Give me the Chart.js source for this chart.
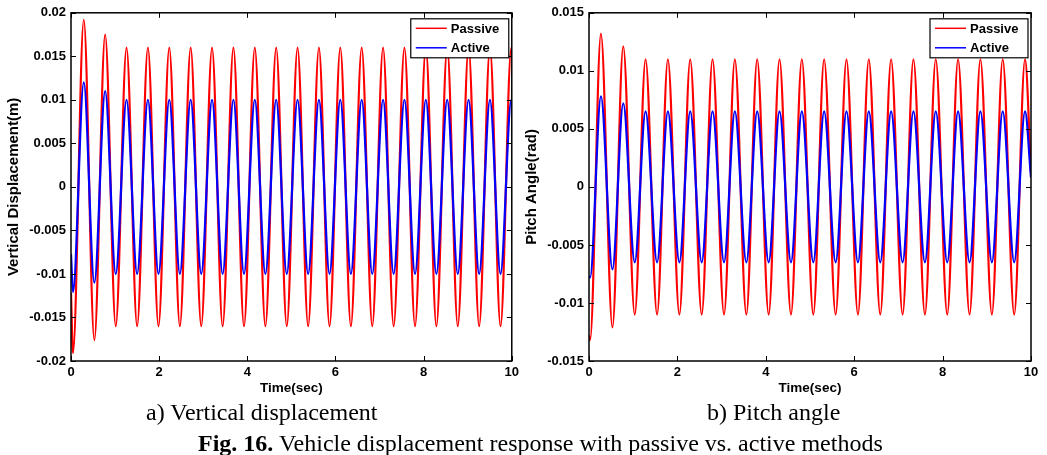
<!DOCTYPE html>
<html>
<head>
<meta charset="utf-8">
<script src="https://cdn.jsdelivr.net/npm/chart.js@4.4.1/dist/chart.umd.min.js"></script>
<style>
  body { margin: 0; background: #fff; width: 1047px; height: 455px; position: relative; overflow: hidden; }
  canvas { position: absolute; top: 0; }
  #vertChart { left: 0; }
  #pitchChart { left: 520px; }
  .cap { position: absolute; font-family: "Liberation Serif", "Times New Roman", serif; font-size: 24px; line-height: 24px; color: #000; white-space: nowrap; }
</style>
</head>
<body>
<canvas id="vertChart" width="523" height="400"></canvas>
<canvas id="pitchChart" width="527" height="400"></canvas>
<div class="cap" style="left:146px; top:400px;">a) Vertical displacement</div>
<div class="cap" style="left:707px; top:400px;">b) Pitch angle</div>
<div class="cap" style="left:198px; top:431px;"><b>Fig. 16.</b> Vehicle displacement response with passive vs. active methods</div>

<script>
// Vertical displacement (left) - times of start, troughs/peaks, end
const vertTime = [0, 0.045, 0.29, 0.53, 0.775, 1.015, 1.26, 1.50, 1.745, 1.985, 2.23, 2.47, 2.715, 2.955,
  3.20, 3.44, 3.685, 3.925, 4.17, 4.41, 4.655, 4.895, 5.14, 5.38, 5.625, 5.865, 6.11, 6.35, 6.595, 6.835,
  7.08, 7.32, 7.565, 7.805, 8.05, 8.29, 8.535, 8.775, 9.02, 9.26, 9.505, 9.745, 9.99, 10];
const vertPassive = [-0.0122, -0.0191, 0.0192, -0.0176, 0.0175, -0.0160, 0.0160, -0.0160, 0.0160, -0.0160, 0.0160,
  -0.0160, 0.0160, -0.0160, 0.0160, -0.0160, 0.0160, -0.0160, 0.0160, -0.0160, 0.0160, -0.0160, 0.0160, -0.0160,
  0.0160, -0.0160, 0.0160, -0.0160, 0.0160, -0.0160, 0.0160, -0.0160, 0.0160, -0.0160, 0.0160, -0.0160, 0.0160,
  -0.0160, 0.0160, -0.0160, 0.0160, -0.0160, 0.0160, 0.0158];
const vertActive = [-0.0077, -0.0121, 0.0120, -0.0110, 0.0110, -0.0100, 0.0100, -0.0100, 0.0100, -0.0100, 0.0100,
  -0.0100, 0.0100, -0.0100, 0.0100, -0.0100, 0.0100, -0.0100, 0.0100, -0.0100, 0.0100, -0.0100, 0.0100, -0.0100,
  0.0100, -0.0100, 0.0100, -0.0100, 0.0100, -0.0100, 0.0100, -0.0100, 0.0100, -0.0100, 0.0100, -0.0100, 0.0100,
  -0.0100, 0.0100, -0.0100, 0.0100, -0.0100, 0.0100, 0.0098];

// Pitch angle (right)
const pitchTime = [0, 0.025, 0.27, 0.53, 0.775, 1.035, 1.28, 1.54, 1.785, 2.045, 2.29, 2.55, 2.795, 3.055,
  3.30, 3.56, 3.805, 4.065, 4.31, 4.57, 4.815, 5.075, 5.32, 5.58, 5.825, 6.085, 6.33, 6.59, 6.835, 7.095,
  7.34, 7.60, 7.845, 8.105, 8.35, 8.61, 8.855, 9.115, 9.36, 9.62, 9.865, 10];
const pitchPassive = [-0.0128, -0.0132, 0.0132, -0.0121, 0.0121, -0.0110, 0.0110, -0.0110, 0.0110, -0.0110, 0.0110,
  -0.0110, 0.0110, -0.0110, 0.0110, -0.0110, 0.0110, -0.0110, 0.0110, -0.0110, 0.0110, -0.0110, 0.0110, -0.0110,
  0.0110, -0.0110, 0.0110, -0.0110, 0.0110, -0.0110, 0.0110, -0.0110, 0.0110, -0.0110, 0.0110, -0.0110, 0.0110,
  -0.0110, 0.0110, -0.0110, 0.0110, 0.0012];
const pitchActive = [-0.0077, -0.0078, 0.0078, -0.0071, 0.0072, -0.0065, 0.0065, -0.0065, 0.0065, -0.0065, 0.0065,
  -0.0065, 0.0065, -0.0065, 0.0065, -0.0065, 0.0065, -0.0065, 0.0065, -0.0065, 0.0065, -0.0065, 0.0065, -0.0065,
  0.0065, -0.0065, 0.0065, -0.0065, 0.0065, -0.0065, 0.0065, -0.0065, 0.0065, -0.0065, 0.0065, -0.0065, 0.0065,
  -0.0065, 0.0065, -0.0065, 0.0065, 0.0008];

// Tick values and labels
const timeTicks = [0, 2, 4, 6, 8, 10];
const timeTickLabels = ['0', '2', '4', '6', '8', '10'];
const vertTicks = [-0.02, -0.015, -0.01, -0.005, 0, 0.005, 0.01, 0.015, 0.02];
const vertTickLabels = ['-0.02', '-0.015', '-0.01', '-0.005', '0', '0.005', '0.01', '0.015', '0.02'];
const pitchTicks = [-0.015, -0.01, -0.005, 0, 0.005, 0.01, 0.015];
const pitchTickLabels = ['-0.015', '-0.01', '-0.005', '0', '0.005', '0.01', '0.015'];

const FONT = '"Liberation Sans", Arial, sans-serif';
Chart.defaults.font.family = FONT;
Chart.defaults.font.size = 13;
Chart.defaults.font.weight = 'bold';
Chart.defaults.color = '#000';

// MATLAB-like box with inward ticks, plus boxed legend
const matlabBox = {
  id: 'matlabBox',
  afterDatasetsDraw(chart) {
    const { ctx, chartArea: a, scales: { x, y } } = chart;
    ctx.save();
    ctx.strokeStyle = '#000';
    ctx.lineWidth = 1.5;
    ctx.strokeRect(a.left, a.top, a.right - a.left, a.bottom - a.top);
    ctx.beginPath();
    x.ticks.forEach(t => {
      const px = Math.round(x.getPixelForValue(t.value)) + 0.5;
      ctx.moveTo(px, a.bottom); ctx.lineTo(px, a.bottom - 5);
      ctx.moveTo(px, a.top); ctx.lineTo(px, a.top + 5);
    });
    y.ticks.forEach(t => {
      const py = Math.round(y.getPixelForValue(t.value)) + 0.5;
      ctx.moveTo(a.left, py); ctx.lineTo(a.left + 5, py);
      ctx.moveTo(a.right, py); ctx.lineTo(a.right - 5, py);
    });
    ctx.lineWidth = 1;
    ctx.stroke();
    ctx.restore();
  },
  afterDraw(chart) {
    const { ctx, chartArea: a } = chart;
    const w = 98, h = 39;
    const bx = a.right - 3 - w, by = a.top + 6;
    ctx.save();
    ctx.fillStyle = '#fff';
    ctx.fillRect(bx, by, w, h);
    ctx.strokeStyle = '#000';
    ctx.lineWidth = 1.2;
    ctx.strokeRect(bx, by, w, h);
    ctx.font = 'bold 13px ' + FONT;
    ctx.textBaseline = 'middle';
    chart.data.datasets.forEach((ds, i) => {
      const ly = by + 9.5 + i * 19.5;
      ctx.strokeStyle = ds.borderColor;
      ctx.lineWidth = 1.5;
      ctx.beginPath();
      ctx.moveTo(bx + 5, ly); ctx.lineTo(bx + 36, ly);
      ctx.stroke();
      ctx.fillStyle = '#000';
      ctx.fillText(ds.label, bx + 40, ly + 1);
    });
    ctx.restore();
  }
};

function makeChart(id, times, passive, active, yTicks, yLabels, yMin, yMax, yTitle, lay) {
  const ctx = document.getElementById(id).getContext('2d');
  return new Chart(ctx, {
    type: 'line',
    data: {
      datasets: [
        {
          label: 'Passive',
          data: times.map((t, i) => ({ x: t, y: passive[i] })),
          borderColor: '#ff0000',
          borderWidth: 2.2,
          pointRadius: 0,
          cubicInterpolationMode: 'monotone',
          order: 2,
        },
        {
          label: 'Active',
          data: times.map((t, i) => ({ x: t, y: active[i] })),
          borderColor: '#0000ff',
          borderWidth: 2.2,
          pointRadius: 0,
          cubicInterpolationMode: 'monotone',
          order: 1,
        },
      ],
    },
    options: {
      responsive: false,
      animation: false,
      devicePixelRatio: 1,
      layout: { padding: { top: lay.top, right: lay.right, left: 0, bottom: 0 } },
      plugins: { legend: { display: false }, tooltip: { enabled: false } },
      scales: {
        x: {
          type: 'linear',
          min: 0,
          max: 10,
          afterBuildTicks: s => { s.ticks = timeTicks.map(v => ({ value: v })); },
          afterFit: s => { s.height = 39; },
          grid: { display: false, drawTicks: false },
          border: { display: false },
          ticks: { padding: 4, maxRotation: 0, callback: (v, i) => timeTickLabels[i] },
          title: { display: true, text: 'Time(sec)', font: { size: 13.5, weight: 'bold' }, padding: { top: 4, bottom: 4 } },
        },
        y: {
          type: 'linear',
          min: yMin,
          max: yMax,
          afterBuildTicks: s => { s.ticks = yTicks.map(v => ({ value: v })); },
          afterFit: s => { s.width = lay.yWidth; },
          grid: { display: false, drawTicks: false },
          border: { display: false },
          ticks: { padding: 5, callback: (v, i) => yLabels[i] },
          title: { display: true, text: yTitle, font: { size: 15, weight: 'bold' }, padding: { top: lay.titlePad, bottom: 0 } },
        },
      },
    },
    plugins: [matlabBox],
  });
}

makeChart('vertChart', vertTime, vertPassive, vertActive, vertTicks, vertTickLabels, -0.02, 0.02,
  'Vertical Displacement(m)', { top: 11, right: 10, yWidth: 71, titlePad: 5 });
makeChart('pitchChart', pitchTime, pitchPassive, pitchActive, pitchTicks, pitchTickLabels, -0.015, 0.015,
  'Pitch Angle(rad)', { top: 12, right: 16, yWidth: 69, titlePad: 3 });
</script>
</body>
</html>
